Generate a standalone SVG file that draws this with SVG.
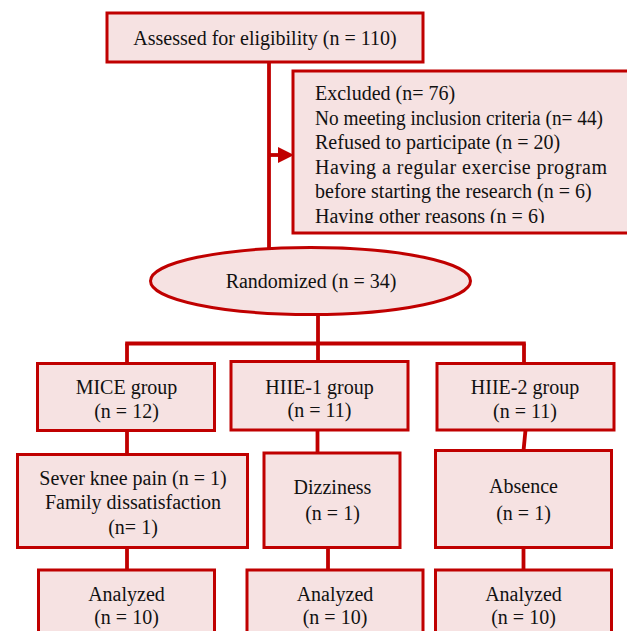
<svg xmlns="http://www.w3.org/2000/svg" width="627" height="631" viewBox="0 0 627 631">
  <style>
    .box { fill: #F6E2E2; stroke: #C00000; stroke-width: 3; }
    .con { stroke: #C00000; stroke-width: 3.8; fill: none; }
    text { font-family: "Liberation Serif", "Times New Roman", serif; font-size: 20px; fill: #111; }
    .c { text-anchor: middle; }
  </style>
  <defs>
    <clipPath id="exclClip"><rect x="293" y="71" width="340" height="152"/></clipPath>
  </defs>
  <rect width="627" height="631" fill="#fff"/>

  <g id="connectors">
    <line class="con" x1="269" y1="62" x2="269" y2="249"/>
    <line class="con" x1="269" y1="155" x2="281" y2="155"/>
    <polygon points="278,147 294,155 278,163" fill="#C00000"/>
    <line class="con" x1="318" y1="314" x2="318" y2="343.5"/>
    <line class="con" x1="125.2" y1="343.5" x2="525.8" y2="343.5"/>
    <line class="con" x1="127" y1="343.5" x2="127" y2="364"/>
    <line class="con" x1="318" y1="343.5" x2="318" y2="362"/>
    <line class="con" x1="524" y1="343.5" x2="524" y2="364"/>
    <line class="con" x1="127" y1="430" x2="127" y2="455"/>
    <line class="con" x1="317.5" y1="430" x2="317.5" y2="454"/>
    <line class="con" x1="525.5" y1="430" x2="523.5" y2="451"/>
    <line class="con" x1="127" y1="547" x2="127" y2="570"/>
    <line class="con" x1="328" y1="547" x2="328" y2="570"/>
    <line class="con" x1="523.5" y1="547" x2="523.5" y2="570"/>
  </g>

  <g id="assessed">
    <rect class="box" x="107" y="13" width="316" height="49"/>
    <text class="c" x="265" y="44.5">Assessed for eligibility (n = 110)</text>
  </g>

  <g id="excluded">
    <rect class="box" x="293" y="71" width="345" height="162"/>
    <g clip-path="url(#exclClip)">
      <text x="315" y="100">Excluded (n= 76)</text>
      <text x="315" y="124.5" textLength="288" lengthAdjust="spacingAndGlyphs">No meeting inclusion criteria (n= 44)</text>
      <text x="315" y="149">Refused to participate (n = 20)</text>
      <text x="315" y="173.5" textLength="292" lengthAdjust="spacing">Having a regular exercise program</text>
      <text x="315" y="198">before starting the research (n = 6)</text>
      <text x="315" y="222.5">Having other reasons (n = 6)</text>
    </g>
  </g>

  <g id="randomized">
    <ellipse class="box" cx="310.5" cy="281" rx="160" ry="33.5"/>
    <text class="c" x="311" y="288">Randomized (n = 34)</text>
  </g>

  <g id="mice">
    <rect class="box" x="37.5" y="363.5" width="177" height="67"/>
    <text class="c" x="126.5" y="394">MICE group</text>
    <text class="c" x="126.5" y="418">(n = 12)</text>
  </g>

  <g id="hiie1">
    <rect class="box" x="231" y="361.5" width="177" height="68.5"/>
    <text class="c" x="319.5" y="393.5">HIIE-1 group</text>
    <text class="c" x="319.5" y="417">(n = 11)</text>
  </g>

  <g id="hiie2">
    <rect class="box" x="437" y="363.5" width="177" height="66.5"/>
    <text class="c" x="525" y="394">HIIE-2 group</text>
    <text class="c" x="525" y="418">(n = 11)</text>
  </g>

  <g id="mice-drop">
    <rect class="box" x="17.5" y="454.5" width="230" height="93"/>
    <text class="c" x="133" y="484.5">Sever knee pain (n = 1)</text>
    <text class="c" x="133" y="509">Family dissatisfaction</text>
    <text class="c" x="133" y="533.5">(n= 1)</text>
  </g>

  <g id="hiie1-drop">
    <rect class="box" x="264" y="453" width="136" height="94.5"/>
    <text class="c" x="332.5" y="494">Dizziness</text>
    <text class="c" x="332.5" y="520">(n = 1)</text>
  </g>

  <g id="hiie2-drop">
    <rect class="box" x="435.5" y="450.5" width="176" height="97"/>
    <text class="c" x="523.5" y="493">Absence</text>
    <text class="c" x="523.5" y="519.5">(n = 1)</text>
  </g>

  <g id="mice-analyzed">
    <rect class="box" x="38.5" y="570" width="176" height="80"/>
    <text class="c" x="126.5" y="600.5">Analyzed</text>
    <text class="c" x="126.5" y="624">(n = 10)</text>
  </g>

  <g id="hiie1-analyzed">
    <rect class="box" x="247" y="570" width="176" height="80"/>
    <text class="c" x="335" y="600.5">Analyzed</text>
    <text class="c" x="335" y="624">(n = 10)</text>
  </g>

  <g id="hiie2-analyzed">
    <rect class="box" x="435.5" y="570" width="176" height="80"/>
    <text class="c" x="523.5" y="600.5">Analyzed</text>
    <text class="c" x="523.5" y="624">(n = 10)</text>
  </g>
</svg>
